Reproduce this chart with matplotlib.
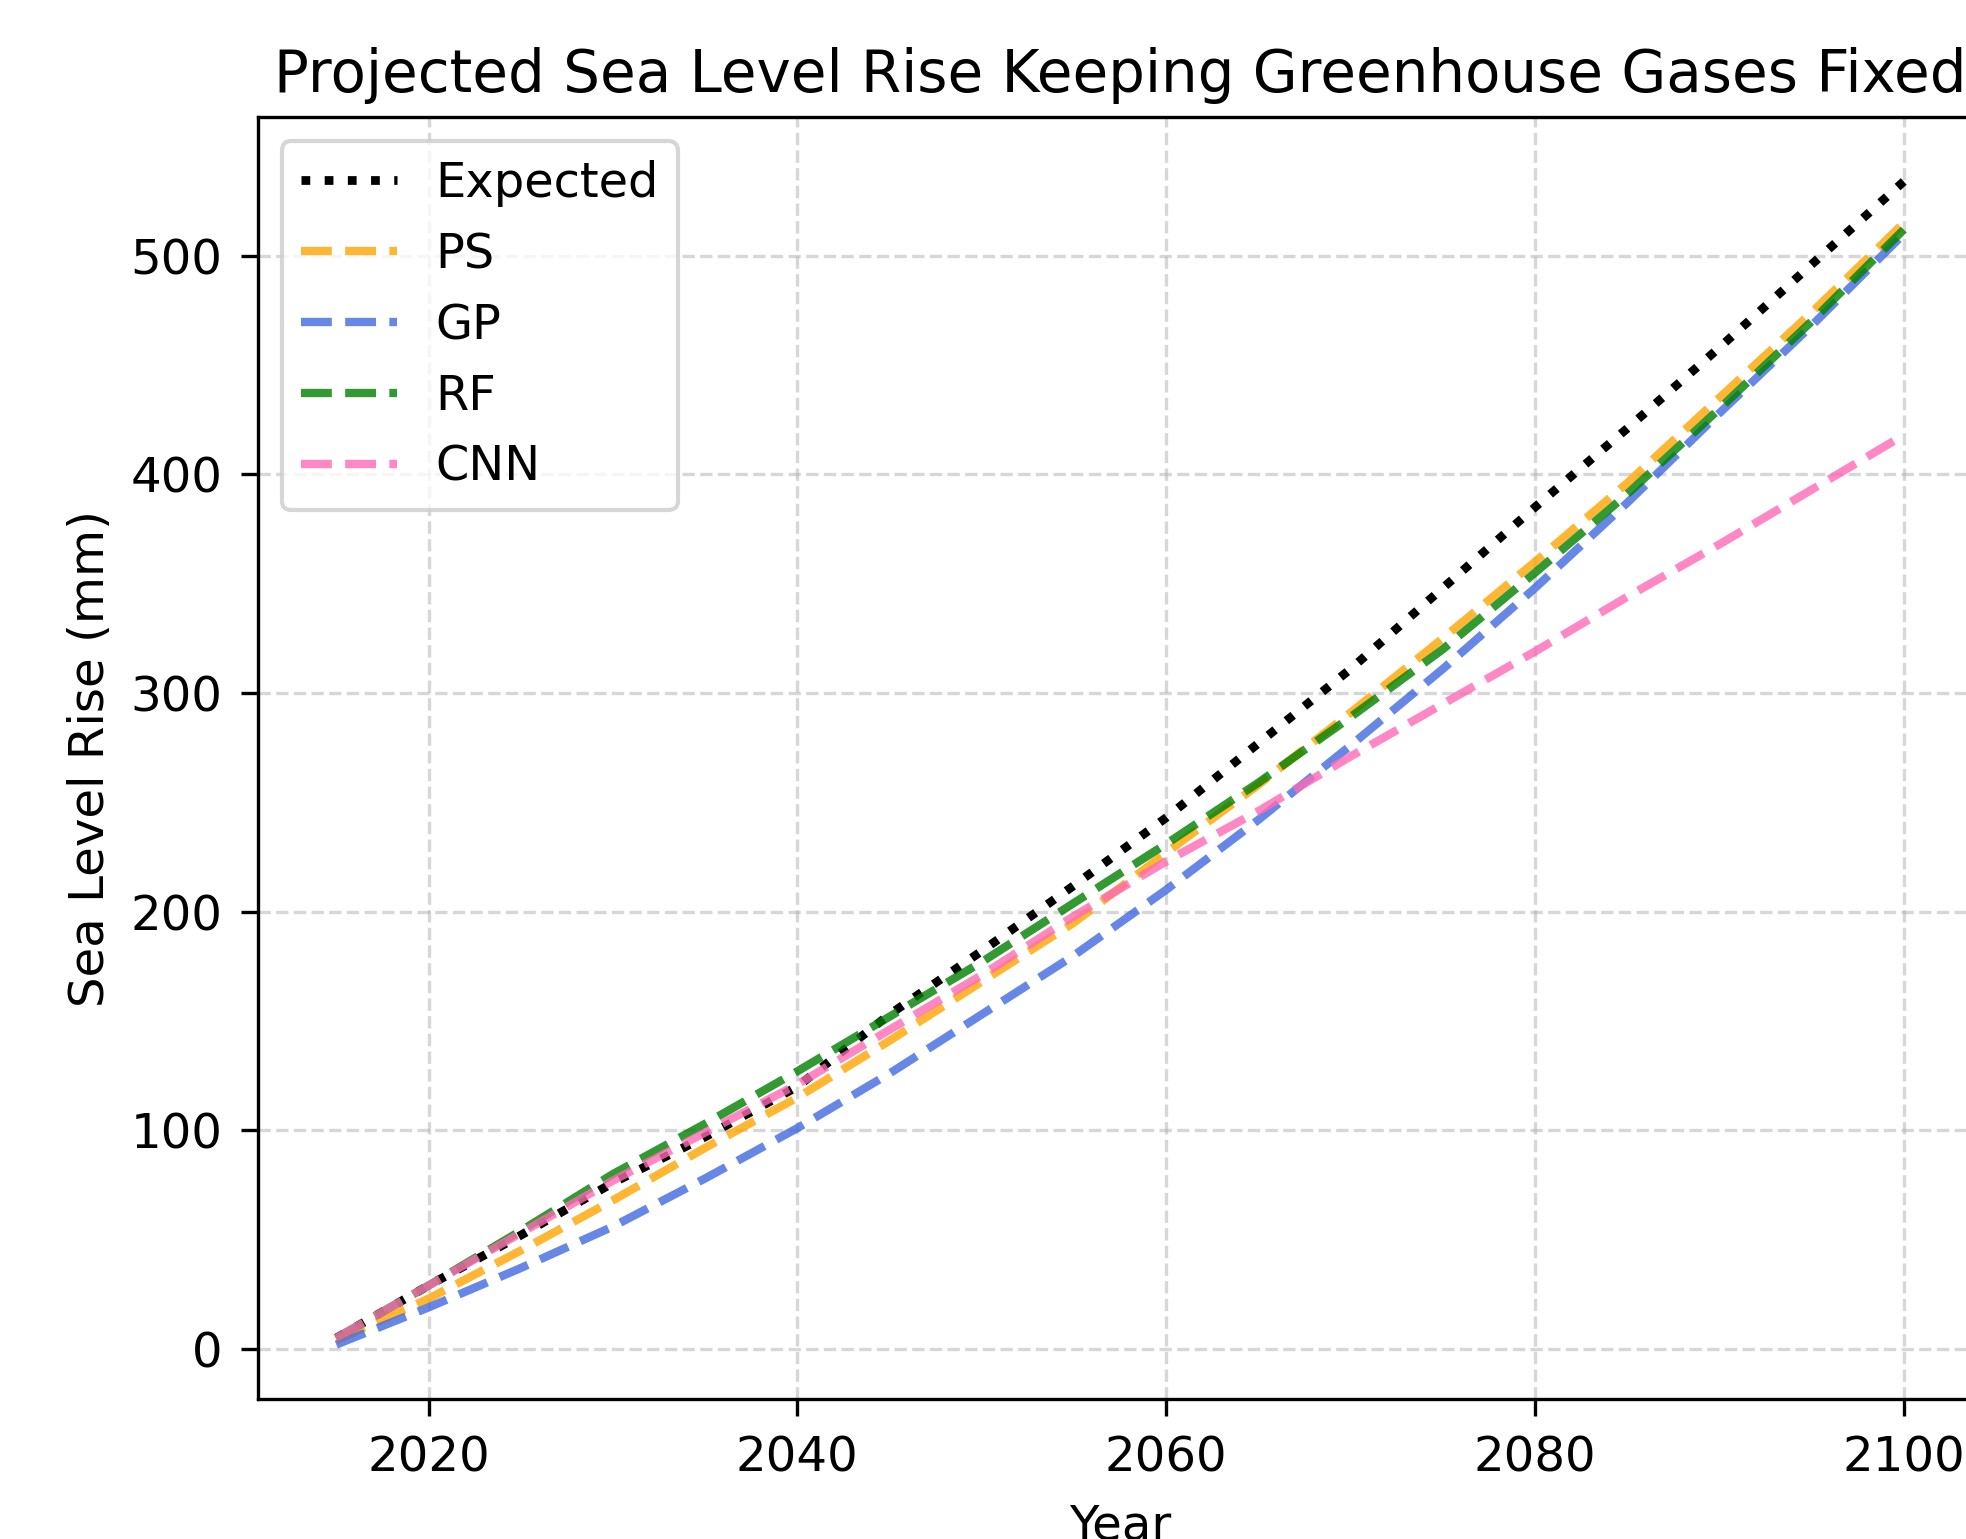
import numpy as np
import matplotlib
matplotlib.use('Agg')
import matplotlib.pyplot as plt

years = [2015, 2020, 2025, 2030, 2035, 2040, 2045, 2050, 2055,
         2060, 2065, 2070, 2075, 2080, 2085, 2090, 2095, 2100]

expected = [5, 29, 52, 76, 97, 120, 153, 182, 212,
            243, 277, 311, 348, 385, 421, 458, 496, 534]
ps = [4, 23, 45, 68, 92, 115, 141, 168, 195,
      227, 258, 291, 325, 360, 396, 435, 474, 515]
gp = [2, 19, 37, 56, 78, 101, 126, 153, 180,
      210, 242, 276, 311, 348, 387, 428, 468, 510]
rf = [5, 29, 54, 80, 103, 127, 152, 177, 204,
      231, 259, 289, 320, 355, 391, 430, 470, 512]
cnn = [5, 29, 53, 77, 99, 121, 146, 171, 198,
       223, 246, 271, 295, 319, 344, 368, 393, 418]

fig = plt.figure(figsize=(1966 / 300, 1539 / 300), dpi=300)
ax = fig.add_axes([0.1312, 0.0908, 0.877, 0.8332])

ax.plot(years, expected, ':', color='black', lw=2.1, label='Expected')
ax.plot(years, ps, '--', color='orange', lw=2, alpha=0.8, label='PS')
ax.plot(years, gp, '--', color='royalblue', lw=2, alpha=0.8, label='GP')
ax.plot(years, rf, '--', color='green', lw=2, alpha=0.8, label='RF')
ax.plot(years, cnn, '--', color='hotpink', lw=2, alpha=0.8, label='CNN')

ax.set_ylim(-23, 563.5)
ax.set_xticks([2020, 2040, 2060, 2080, 2100])
ax.set_yticks([0, 100, 200, 300, 400, 500])
ax.tick_params(labelsize=11.6, length=4, pad=4.5)
ax.grid(True, linestyle='--', alpha=0.5)

ax.set_xlabel('Year', fontsize=11.6, labelpad=5)
ax.set_ylabel('Sea Level Rise (mm)', fontsize=11.6)
ax.set_title('Projected Sea Level Rise Keeping Greenhouse Gases Fixed', fontsize=13.9)
ax.legend(loc='upper left', fontsize=11.5)

fig.savefig('out.png', dpi=300)
